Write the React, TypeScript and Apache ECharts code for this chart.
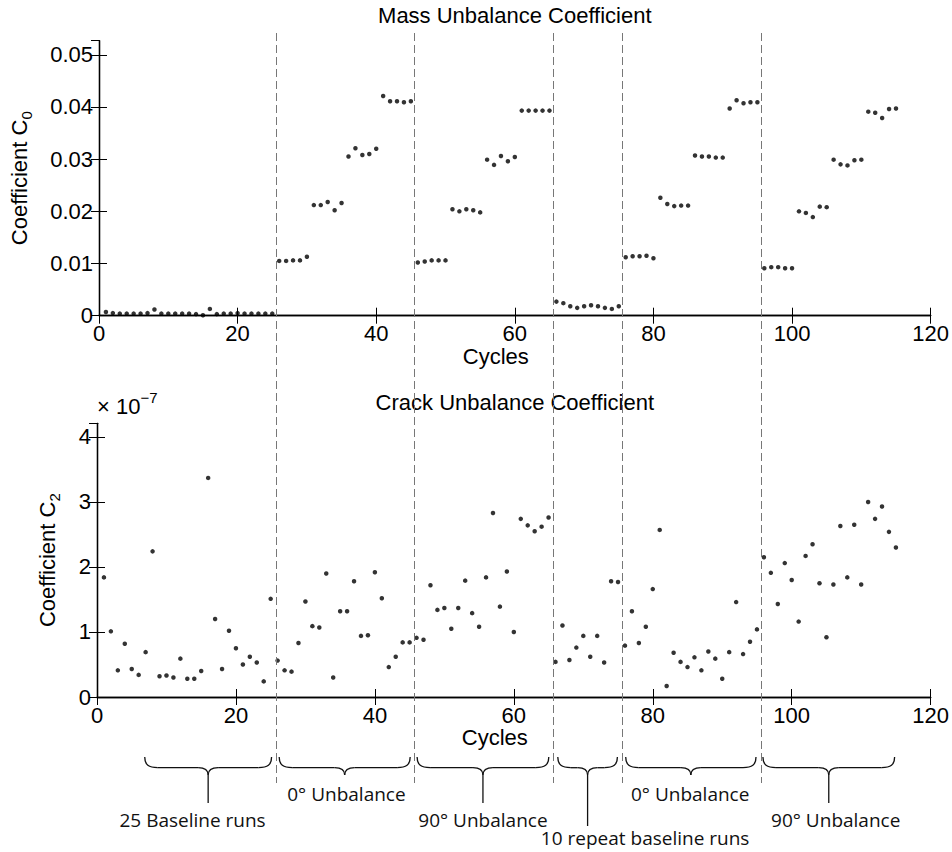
import React, { useEffect, useRef } from "react";
import * as echarts from "echarts";

// ---- data ----
const cycleTicks = [0, 20, 40, 60, 80, 100, 120];

// Mass unbalance coefficient C0, cycles 1..115
const massCoeff = [
  0.0007, 0.0005, 0.0004, 0.0004, 0.0004, 0.0004, 0.0005, 0.0012, 0.0004, 0.0004,
  0.0004, 0.0004, 0.0004, 0.0003, 0.0001, 0.0013, 0.0003, 0.0004, 0.0004, 0.0005,
  0.0004, 0.0004, 0.0004, 0.0004, 0.0004,
  0.0105, 0.0105, 0.0106, 0.0106, 0.0113, 0.0212, 0.0212, 0.0218, 0.0202, 0.0216,
  0.0305, 0.0321, 0.0308, 0.031, 0.032, 0.0421, 0.0411, 0.0411, 0.0409, 0.0411,
  0.0102, 0.0104, 0.0106, 0.0106, 0.0106, 0.0204, 0.02, 0.0204, 0.0202, 0.0198,
  0.0299, 0.0289, 0.0306, 0.0296, 0.0304, 0.0393, 0.0393, 0.0393, 0.0393, 0.0393,
  0.0027, 0.0024, 0.0018, 0.0015, 0.0018, 0.002, 0.0018, 0.0015, 0.0013, 0.0018,
  0.0112, 0.0114, 0.0114, 0.0115, 0.011, 0.0226, 0.0214, 0.021, 0.0211, 0.0211,
  0.0307, 0.0305, 0.0305, 0.0303, 0.0303, 0.0397, 0.0413, 0.0407, 0.0409, 0.0409,
  0.0091, 0.0093, 0.0093, 0.0091, 0.0091, 0.02, 0.0197, 0.0189, 0.0209, 0.0208,
  0.0299, 0.029, 0.0288, 0.0298, 0.0299, 0.0391, 0.0389, 0.0379, 0.0396, 0.0397,
];

// Crack unbalance coefficient C2, in units of 1e-7, cycles 1..115
const crackCoeffE7 = [
  1.84, 1.01, 0.41, 0.82, 0.43, 0.34, 0.69, 2.24, 0.32, 0.33,
  0.3, 0.59, 0.28, 0.28, 0.4, 3.37, 1.2, 0.43, 1.02, 0.75,
  0.5, 0.62, 0.53, 0.24, 1.51,
  0.56, 0.41, 0.39, 0.83, 1.47, 1.09, 1.07, 1.9, 0.3, 1.32,
  1.32, 1.78, 0.94, 0.95, 1.92, 1.52, 0.46, 0.62, 0.84, 0.84,
  0.91, 0.88, 1.72, 1.34, 1.37, 1.05, 1.37, 1.79, 1.29, 1.08,
  1.84, 2.83, 1.39, 1.93, 1.0, 2.74, 2.64, 2.55, 2.62, 2.76,
  0.54, 1.1, 0.57, 0.76, 0.94, 0.62, 0.94, 0.53, 1.78, 1.77,
  0.79, 1.32, 0.83, 1.08, 1.66, 2.57, 0.17, 0.68, 0.54, 0.46,
  0.61, 0.41, 0.7, 0.59, 0.28, 0.69, 1.46, 0.66, 0.85, 1.04,
  2.15, 1.91, 1.43, 2.06, 1.8, 1.16, 2.17, 2.35, 1.75, 0.92,
  1.73, 2.63, 1.84, 2.65, 1.73, 3.0, 2.74, 2.93, 2.54, 2.3,
];

const phaseBoundaries = [25.5, 45.5, 65.5, 75.5, 95.5];
const phaseLabels = [
  "25 Baseline runs",
  "0° Unbalance",
  "90° Unbalance",
  "10 repeat baseline runs",
  "0° Unbalance",
  "90° Unbalance",
];

// ---- layout (pixel / styling config) ----
const braceSpans = [
  [6.6, 24.9],
  [26.0, 44.9],
  [45.9, 64.9],
  [66.2, 74.8],
  [76.0, 94.8],
  [95.8, 114.8],
];
const braceStemEnd = [803, 0, 803, 826, 0, 803];
const labelCenterX = [13.5, 35.7, 55.4, 78.8, 85.3, 106.3];
const labelCenterY = [820, 794, 820, 838, 794, 820];

const FONT = "'Liberation Sans', Arial, Helvetica, sans-serif";
const ANN_FONT = "'Open Sans', 'Noto Sans', sans-serif";
const FS = 22;

export default function App() {
  const ref = useRef<HTMLDivElement>(null);

  useEffect(() => {
    if (!ref.current) return;
    const chart = echarts.init(ref.current, undefined, { renderer: "svg" });

    const axisLine = { show: true, lineStyle: { color: "#000", width: 1.3 } };
    const axisTick = { show: true, inside: true, length: 8, lineStyle: { color: "#000", width: 1 } };

    const xBase = (gridIndex: number, position: "top" | "bottom", labels: boolean) => ({
      type: "value",
      gridIndex,
      position,
      min: cycleTicks[0],
      max: cycleTicks[cycleTicks.length - 1],
      interval: cycleTicks[1] - cycleTicks[0],
      axisLine,
      axisTick,
      splitLine: { show: false },
      axisLabel: labels
        ? { show: true, color: "#000", fontSize: FS, fontFamily: FONT, margin: 7 }
        : { show: false },
      name: labels ? "Cycles" : "",
      nameLocation: "middle",
      nameGap: 27,
      nameTextStyle: { color: "#000", fontSize: FS, fontFamily: FONT, padding: [0, 38, 0, 0] },
    });

    const yBase = (
      gridIndex: number,
      position: "left" | "right",
      max: number,
      interval: number,
      name: string,
      nameGap: number
    ) => ({
      type: "value",
      gridIndex,
      position,
      min: 0,
      max,
      interval,
      axisLine,
      axisTick,
      splitLine: { show: false },
      axisLabel:
        position === "left"
          ? { show: true, color: "#000", fontSize: FS, fontFamily: FONT, margin: 6, showMaxLabel: false }
          : { show: false },
      name: position === "left" ? name : "",
      nameLocation: "middle",
      nameGap,
      nameRotate: 90,
      nameTextStyle: {
        color: "#000",
        fontSize: FS,
        fontFamily: FONT,
        rich: {
          m: { fontSize: FS, fontFamily: FONT, color: "#000", lineHeight: 30 },
          s: { fontSize: 15, fontFamily: FONT, color: "#000", lineHeight: 15, verticalAlign: "bottom" },
        },
      },
    });

    chart.setOption({
      animation: false,
      backgroundColor: "#fff",
      grid: [
        { left: 97, top: 40.7, width: 833.7, height: 275 },
        { left: 97, top: 423.3, width: 833.7, height: 273.7 },
      ],
      xAxis: [
        xBase(0, "bottom", true),
        xBase(0, "top", false),
        xBase(1, "bottom", true),
        xBase(1, "top", false),
      ],
      yAxis: [
        yBase(0, "left", 0.0527, 0.01, "{m|Coefficient C}{s|0}", 65),
        yBase(0, "right", 0.0527, 0.01, "", 0),
        yBase(1, "left", 4.21, 1, "{m|Coefficient C}{s|2}", 35),
        yBase(1, "right", 4.21, 1, "", 0),
      ],
      series: [
        {
          type: "scatter",
          name: "Mass Unbalance Coefficient",
          xAxisIndex: 0,
          yAxisIndex: 0,
          symbol: "circle",
          symbolSize: 4.5,
          itemStyle: { color: "#000" },
          data: massCoeff.map((v, i) => [i + 1, v]),
        },
        {
          type: "scatter",
          name: "Crack Unbalance Coefficient",
          xAxisIndex: 2,
          yAxisIndex: 2,
          symbol: "circle",
          symbolSize: 4.5,
          itemStyle: { color: "#000" },
          data: crackCoeffE7.map((v, i) => [i + 1, v]),
        },
      ],
    });

    const px = (v: number) => chart.convertToPixel({ xAxisIndex: 0 }, v) as number;
    const graphics: any[] = [];

    // titles
    const midX = (px(0) + px(120)) / 2;
    graphics.push({
      type: "text",
      x: midX,
      y: 15,
      style: { text: "Mass Unbalance Coefficient", fontSize: FS, fontFamily: FONT, fill: "#000", align: "center", verticalAlign: "middle" },
    });
    graphics.push({
      type: "text",
      x: midX,
      y: 402,
      style: { text: "Crack Unbalance Coefficient", fontSize: FS, fontFamily: FONT, fill: "#000", align: "center", verticalAlign: "middle" },
    });
    // exponent label
    graphics.push({
      type: "text",
      x: 97,
      y: 406,
      style: {
        text: "{b|× 10}{p|−7}",
        align: "left",
        verticalAlign: "middle",
        rich: {
          b: { fontSize: FS, fontFamily: FONT, fill: "#000", lineHeight: 32 },
          p: { fontSize: 15, fontFamily: FONT, fill: "#000", lineHeight: 15, verticalAlign: "top" },
        },
      },
    });

    // dashed phase boundaries
    phaseBoundaries.forEach((b) => {
      const x = Math.round(px(b)) + 0.5;
      graphics.push({
        type: "line",
        shape: { x1: x, y1: 33, x2: x, y2: 783 },
        style: { stroke: "#777", lineWidth: 1, lineDash: [8, 4] },
        z: 10,
      });
    });

    // braces
    const stroke = { stroke: "#111", lineWidth: 1.3, fill: "none" };
    const y0 = 757;
    braceSpans.forEach(([a, b], i) => {
      const x0 = px(a);
      const x1 = px(b);
      const xm = (x0 + x1) / 2;
      const d = 10.7;
      const tip = 18;
      graphics.push({
        type: "bezierCurve",
        shape: { x1: x0, y1: y0, x2: x0 + 13, y2: y0 + d, cpx1: x0, cpy1: y0 + 8, cpx2: x0 + 4, cpy2: y0 + d },
        style: stroke,
      });
      graphics.push({ type: "line", shape: { x1: x0 + 13, y1: y0 + d, x2: xm - 10, y2: y0 + d }, style: stroke });
      graphics.push({
        type: "bezierCurve",
        shape: { x1: xm - 10, y1: y0 + d, x2: xm, y2: y0 + tip, cpx1: xm - 3, cpy1: y0 + d, cpx2: xm, cpy2: y0 + 13 },
        style: stroke,
      });
      graphics.push({
        type: "bezierCurve",
        shape: { x1: xm + 10, y1: y0 + d, x2: xm, y2: y0 + tip, cpx1: xm + 3, cpy1: y0 + d, cpx2: xm, cpy2: y0 + 13 },
        style: stroke,
      });
      graphics.push({ type: "line", shape: { x1: xm + 10, y1: y0 + d, x2: x1 - 13, y2: y0 + d }, style: stroke });
      graphics.push({
        type: "bezierCurve",
        shape: { x1: x1, y1: y0, x2: x1 - 13, y2: y0 + d, cpx1: x1, cpy1: y0 + 8, cpx2: x1 - 4, cpy2: y0 + d },
        style: stroke,
      });
      if (braceStemEnd[i] > y0 + tip) {
        graphics.push({ type: "line", shape: { x1: xm, y1: y0 + tip, x2: xm, y2: braceStemEnd[i] }, style: stroke });
      }
      graphics.push({
        type: "text",
        x: px(labelCenterX[i]),
        y: labelCenterY[i],
        style: { text: phaseLabels[i], fontSize: 19, fontFamily: ANN_FONT, fill: "#111", align: "center", verticalAlign: "middle" },
      });
    });

    chart.setOption({ graphic: graphics });

    return () => chart.dispose();
  }, []);

  return (
    <div
      ref={ref}
      style={{ position: "fixed", left: 0, top: 0, width: 952, height: 852, background: "#fff" }}
    />
  );
}
